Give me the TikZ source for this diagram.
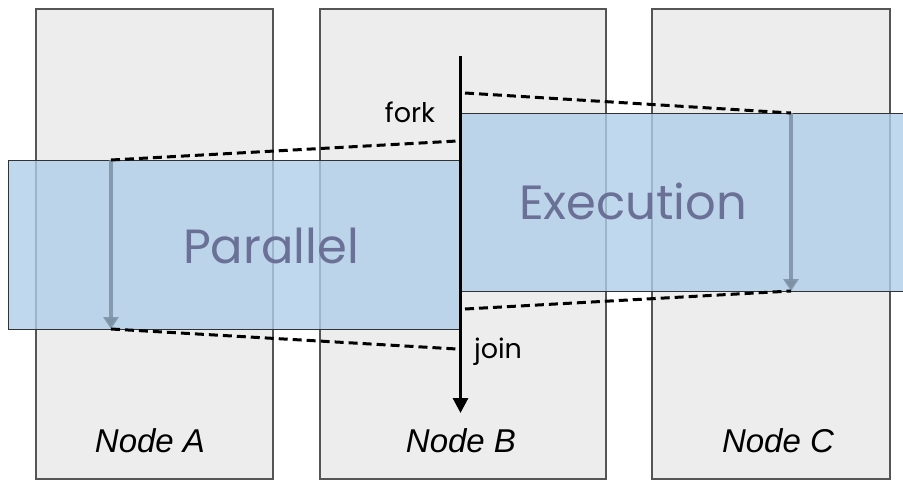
\documentclass[tikz,border=0pt]{standalone}
\usepackage{fontspec}
\setmainfont{Liberation Sans}
\newfontfamily\gothicfont{Poppins}
\usetikzlibrary{arrows.meta}
\definecolor{nodefill}{HTML}{EDEDED}
\definecolor{nodeline}{HTML}{555555}
\definecolor{phasefill}{RGB}{176,206,232}
\definecolor{phasetext}{HTML}{6A7096}
\definecolor{flowline}{RGB}{125,145,165}
\tikzset{
  nodecol/.style={draw=nodeline, line width=1.4pt, fill=nodefill},
  phase/.style={draw=black!80, line width=0.8pt, fill=phasefill, fill opacity=0.8},
  phaselabel/.style={text=phasetext, font=\gothicfont\fontsize{48}{52}\selectfont},
  collabel/.style={font=\itshape\fontsize{33}{37}\selectfont},
  evlabel/.style={font=\gothicfont\fontsize{27}{30}\selectfont},
  sync/.style={dashed, dash pattern=on 9pt off 5pt, line width=3pt},
  flow/.style={draw=flowline, draw opacity=0.85, line width=3.5pt, -{Triangle[width=15pt,length=12pt]}},
  mainflow/.style={line width=3pt, -{Triangle[width=15pt,length=15pt]}}
}
\begin{document}
\begin{tikzpicture}[x=1pt,y=-1pt]
  \useasboundingbox (0,0) rectangle (903,480);
  % compute nodes
  \draw[nodecol] (36,9) rectangle (273,479);
  \draw[nodecol] (320,9) rectangle (606,479);
  \draw[nodecol] (652,9) rectangle (890,479);
  \node[collabel] (la) at (150,441) {Node A};
  \node[collabel] (lb) at (461,441) {Node B};
  \node[collabel] (lc) at (778,441) {Node C};

  % phase bands
  \draw[phase] (8,160) rectangle (461,329);
  \draw[phase] (461,113) rectangle (910,291);
  \node[phaselabel] (par) at (271,246) {Parallel};
  \node[phaselabel] (exe) at (633,201) {Execution};

  % per-node work arrows
  \coordinate (a1) at (111,160);
  \coordinate (a2) at (111,329);
  \coordinate (c1) at (791,113);
  \coordinate (c2) at (791,291);
  \draw[flow] (a1) -- (a2);
  \draw[flow] (c1) -- (c2);

  % main thread
  \coordinate (m0) at (460.5,56);
  \coordinate (m1) at (460.5,413);
  \draw[mainflow] (m0) -- (m1);
  \node[evlabel, anchor=base] (fork) at (410,122) {fork};
  \node[evlabel, anchor=base] (join) at (498,358) {join};

  % synchronisation lines
  \coordinate (f1) at (457,141);
  \coordinate (f2) at (465,93);
  \coordinate (j1) at (457,349);
  \coordinate (j2) at (465,309);
  \draw[sync] (a1) -- (f1);
  \draw[sync] (f2) -- (c1);
  \draw[sync] (a2) -- (j1);
  \draw[sync] (j2) -- (c2);
\end{tikzpicture}
\end{document}
